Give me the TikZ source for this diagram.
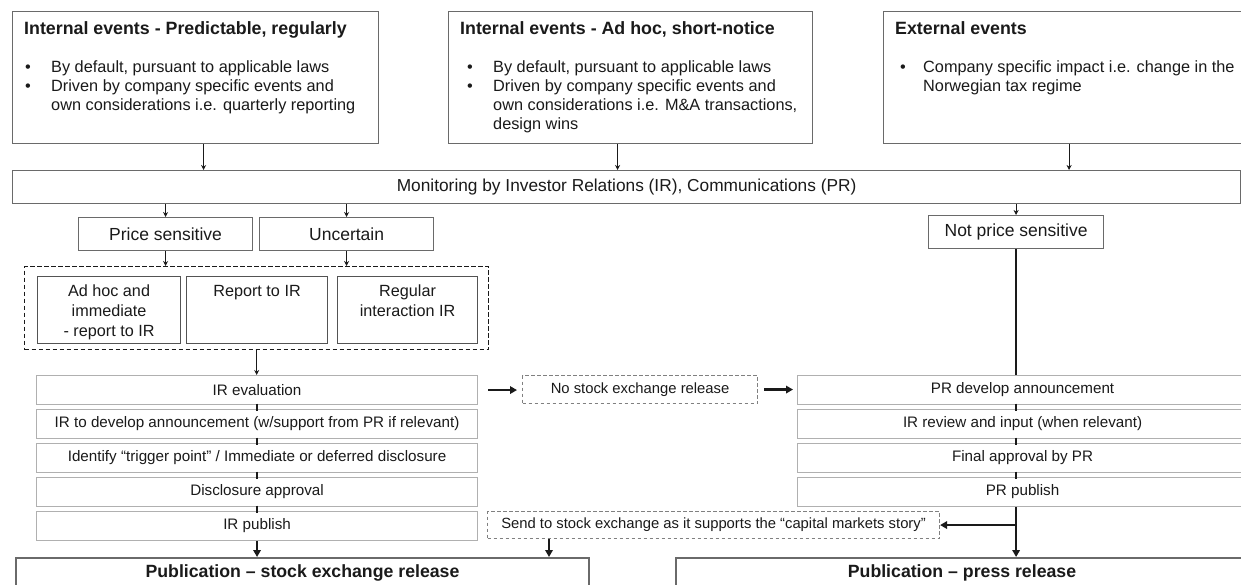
\documentclass[tikz,border=0pt]{standalone}
\usepackage{fontspec}
\setmainfont{Liberation Sans}
\usetikzlibrary{arrows.meta}
\definecolor{boxgray}{HTML}{6A6A6A}
\definecolor{lightbox}{HTML}{B0B0B0}
\definecolor{dashgray}{HTML}{808080}
\definecolor{inkcol}{HTML}{1A1A1A}
\newcommand\fsz[2]{\fontsize{#1}{#2}\selectfont}
\begin{document}
\begin{tikzpicture}[x=1pt,y=-1pt,
  every node/.style={text=inkcol},
  topbox/.style={draw=boxgray, line width=1.2pt, anchor=north west, inner sep=0pt},
  midbox/.style={draw=boxgray, line width=1.2pt, anchor=north west, inner sep=0pt, font=\fsz{17.5}{20}},
  innerbox/.style={draw=inkcol!75, line width=1.1pt, anchor=north west, inner sep=0pt},
  stackbox/.style={draw=lightbox, line width=1.1pt, anchor=north west, inner sep=0pt, font=\fsz{15.2}{18}},
  graydash/.style={draw=dashgray, line width=1.1pt, dash pattern=on 3.5pt off 2.5pt, anchor=north west, inner sep=0pt, font=\fsz{14.8}{18}},
  blackdash/.style={draw=inkcol, line width=1.3pt, dash pattern=on 4.5pt off 2.5pt, anchor=north west, inner sep=0pt},
  pubbox/.style={draw=boxgray, line width=2pt, anchor=north west, inner sep=0pt, font=\bfseries\fsz{17.7}{20}},
  titletext/.style={anchor=base west, inner sep=0pt, font=\bfseries\fsz{17.8}{20}},
  bullettext/.style={anchor=north west, inner sep=0pt, font=\fsz{16.3}{19.2}},
  innertext/.style={anchor=north, inner sep=0pt, font=\fsz{16.2}{20}},
  thinarr/.style={draw=inkcol, line width=0.9pt, -{Stealth[length=5pt,width=5pt]}},
  thickarr/.style={draw=inkcol, line width=2.2pt, -{Triangle[length=7pt,width=7.5pt]}},
  thickline/.style={draw=inkcol, line width=2.4pt},
  tick/.style={draw=inkcol, line width=2.4pt, shorten <=-1.5pt, shorten >=-1.5pt}
]
\useasboundingbox (0,0) rectangle (1241,585);
\fill[white] (0,0) rectangle (1241,585);
\clip (0,0) rectangle (1241,585);

% ---------- top event boxes ----------
\node[topbox, minimum width=366pt, minimum height=132pt] (ev1) at (12,11) {};
\node[topbox, minimum width=364pt, minimum height=132pt] (ev2) at (448,11) {};
\node[topbox, minimum width=360pt, minimum height=132pt] (ev3) at (883,11) {};

\node[titletext] (ev1t) at (24,34.5) {Internal events - Predictable, regularly};
\node[titletext] (ev2t) at (460,34.5) {Internal events - Ad hoc, short-notice};
\node[titletext] (ev3t) at (895,34.5) {External events};

\node[bullettext] (ev1b) at (25,58.5) {\begin{tabular}{@{}p{26pt}@{}l@{}}
\textbullet & By default, pursuant to applicable laws\\
\textbullet & Driven by company specific events and\\
 & own considerations i.e. quarterly reporting
\end{tabular}};
\node[bullettext] (ev2b) at (467,58.5) {\begin{tabular}{@{}p{26pt}@{}l@{}}
\textbullet & By default, pursuant to applicable laws\\
\textbullet & Driven by company specific events and\\
 & own considerations i.e. M\&A transactions,\\
 & design wins
\end{tabular}};
\node[bullettext] (ev3b) at (900,58.5) {\begin{tabular}{@{}p{23pt}@{}l@{}}
\textbullet & Company specific impact i.e. change in the\\
 & Norwegian tax regime
\end{tabular}};

% ---------- monitoring ----------
\node[topbox, minimum width=1228pt, minimum height=33pt, font=\fsz{17.3}{20}] (mon) at (12,170)
  {Monitoring by Investor Relations (IR), Communications (PR)};

\coordinate (a1) at ([xshift=8pt]ev1.south);
\coordinate (a2) at ([xshift=-13pt]ev2.south);
\coordinate (a3) at ([xshift=5.5pt]ev3.south);
\draw[thinarr] (a1) -- (a1 |- mon.north);
\draw[thinarr] (a2) -- (a2 |- mon.north);
\draw[thinarr] (a3) -- (a3 |- mon.north);

% ---------- classification ----------
\node[midbox, minimum width=174pt, minimum height=33pt] (ps) at (78,217) {Price sensitive};
\node[midbox, minimum width=174pt, minimum height=33pt] (unc) at (259,217) {Uncertain};
\node[midbox, minimum width=175pt, minimum height=33pt] (nps) at (928,215) {Not price sensitive};

\draw[thinarr] (ps.north |- mon.south) -- (ps.north);
\draw[thinarr] (unc.north |- mon.south) -- (unc.north);
\draw[thinarr] (nps.north |- mon.south) -- (nps.north);

% ---------- dashed group ----------
\node[blackdash, minimum width=464pt, minimum height=83pt] (grp) at (24,266) {};
\draw[thinarr] (ps.south) -- (ps.south |- grp.north);
\draw[thinarr] (unc.south) -- (unc.south |- grp.north);

\node[innerbox, minimum width=143pt, minimum height=67pt] (ia) at (37,276) {};
\node[innerbox, minimum width=141pt, minimum height=67pt] (ib) at (186,276) {};
\node[innerbox, minimum width=140pt, minimum height=67pt] (ic) at (337,276) {};
\node[innertext] (iat) at ([yshift=-6.5pt]ia.north) {\begin{tabular}{@{}c@{}}Ad hoc and\\ immediate\\ - report to IR\end{tabular}};
\node[innertext] (ibt) at ([yshift=-6.5pt]ib.north) {\begin{tabular}{@{}c@{}}Report to IR\end{tabular}};
\node[innertext] (ict) at ([yshift=-6.5pt]ic.north) {\begin{tabular}{@{}c@{}}Regular\\ interaction IR\end{tabular}};

% ---------- left stack ----------
\node[stackbox, minimum width=441pt, minimum height=29pt] (ir1) at (36,375) {IR evaluation};
\node[stackbox, minimum width=441pt, minimum height=29pt] (ir2) at (36,409) {IR to develop announcement (w/support from PR if relevant)};
\node[stackbox, minimum width=441pt, minimum height=29pt] (ir3) at (36,443) {Identify “trigger point” / Immediate or deferred disclosure};
\node[stackbox, minimum width=441pt, minimum height=29pt] (ir4) at (36,477) {Disclosure approval};
\node[stackbox, minimum width=441pt, minimum height=29pt] (ir5) at (36,511) {IR publish};

\draw[thinarr] (grp.south) -- (grp.south |- ir1.north);
\draw[tick] (ir1.south) -- (ir2.north);
\draw[tick] (ir2.south) -- (ir3.north);
\draw[tick] (ir3.south) -- (ir4.north);
\draw[tick] (ir4.south) -- (ir5.north);

% ---------- right stack ----------
\node[stackbox, minimum width=450pt, minimum height=29pt] (pr1) at (797,375) {PR develop announcement};
\node[stackbox, minimum width=450pt, minimum height=29pt] (pr2) at (797,409) {IR review and input (when relevant)};
\node[stackbox, minimum width=450pt, minimum height=29pt] (pr3) at (797,443) {Final approval by PR};
\node[stackbox, minimum width=450pt, minimum height=29pt] (pr4) at (797,477) {PR publish};

\draw[thickline] (nps.south) -- (nps.south |- pr1.north);
\draw[tick] (nps.south |- pr1.south) -- (nps.south |- pr2.north);
\draw[tick] (nps.south |- pr2.south) -- (nps.south |- pr3.north);
\draw[tick] (nps.south |- pr3.south) -- (nps.south |- pr4.north);

% ---------- dashed notes ----------
\node[graydash, minimum width=235pt, minimum height=28pt] (nostock) at (522,375) {No stock exchange release};
\node[graydash, minimum width=452pt, minimum height=27pt] (send) at (487,511)
  {Send to stock exchange as it supports the “capital markets story”};

\draw[thickarr, shorten <=10pt, shorten >=5pt] (ir1.east) -- (ir1.east -| nostock.west);
\draw[thickarr, shorten <=6pt, shorten >=4pt] (nostock.east) -- (nostock.east -| pr1.west);

% ---------- publication ----------
\node[pubbox, minimum width=573pt, minimum height=30pt] (pubstock) at (15,557) {Publication – stock exchange release};
\node[pubbox, minimum width=572pt, minimum height=30pt] (pubpress) at (675,557) {Publication – press release};

\draw[thickarr] (ir5.south) -- (ir5.south |- pubstock.north);
\coordinate (sd) at ([xshift=62pt]send.south west);
\draw[thickarr] (sd) -- (sd |- pubstock.north);
\draw[thickarr] (nps.south |- pr4.south) -- (nps.south |- pubpress.north);
\draw[thickarr] (send.east -| nps.south) -- (send.east);
\end{tikzpicture}
\end{document}
